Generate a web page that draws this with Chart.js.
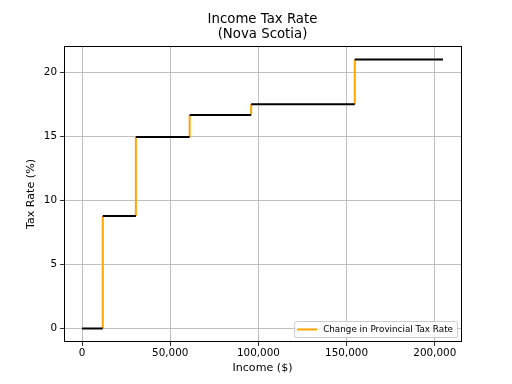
<!DOCTYPE html>
<html>
<head>
<meta charset="utf-8">
<script src="https://cdn.jsdelivr.net/npm/chart.js@4/dist/chart.umd.min.js"></script>
<style>
html,body{margin:0;padding:0;background:#fff;}
#wrap{width:512px;height:384px;position:relative;}
</style>
</head>
<body>
<div id="wrap"><canvas id="c" width="512" height="384"></canvas></div>
<script>
// Bracket thresholds (income $) and provincial tax rates (%)
const bracketEdges = [0, 11744, 30507, 61015, 95883, 154650, 204650];
const taxRates = [0, 8.79, 14.95, 16.67, 17.5, 21];
const xTickValues = [0, 50000, 100000, 150000, 200000];
const yTickValues = [0, 5, 10, 15, 20];
const titleLines = ['Income Tax Rate', '(Nova Scotia)'];
const legendLabel = 'Change in Provincial Tax Rate';

// horizontal (black) segments
const flatPts = [];
for (let i = 0; i < taxRates.length; i++) {
  flatPts.push({x: bracketEdges[i], y: taxRates[i]});
  flatPts.push({x: bracketEdges[i + 1], y: taxRates[i]});
  flatPts.push({x: bracketEdges[i + 1], y: null});
}
// vertical (orange) segments
const stepPts = [];
for (let i = 0; i < taxRates.length - 1; i++) {
  stepPts.push({x: bracketEdges[i + 1], y: taxRates[i]});
  stepPts.push({x: bracketEdges[i + 1], y: taxRates[i + 1]});
  stepPts.push({x: bracketEdges[i + 1], y: null});
}

const xLo = Math.min(...bracketEdges), xHi = Math.max(...bracketEdges);
const yLo = Math.min(...taxRates), yHi = Math.max(...taxRates);
const xm = (xHi - xLo) * 0.05, ym = (yHi - yLo) * 0.05;

const FONT = "'DejaVu Sans', sans-serif";

const framePlugin = {
  id: 'frame',
  afterDraw(chart) {
    const ctx = chart.ctx, a = chart.chartArea;
    ctx.save();
    // axes frame
    ctx.strokeStyle = '#000';
    ctx.lineWidth = 1;
    const L = Math.round(a.left), T = Math.round(a.top), R = Math.round(a.right), B = Math.round(a.bottom);
    ctx.strokeRect(L + 0.5, T + 0.5, R - L, B - T - 1);
    // title, centred over the plot area
    ctx.fillStyle = '#000';
    ctx.textAlign = 'center';
    ctx.textBaseline = 'middle';
    ctx.font = "13.3px " + FONT;
    const cx = (a.left + a.right) / 2;
    ctx.fillText(titleLines[0], cx, 20);
    ctx.fillText(titleLines[1], cx, 35);
    // legend inside lower right
    ctx.font = "8.8px " + FONT;
    const tw = ctx.measureText(legendLabel).width;
    const h = 16;
    const w = 3 + 20 + 6 + tw + 4;
    const rx = R - 4 - w, ry = B - 5 - h;
    ctx.beginPath();
    if (ctx.roundRect) ctx.roundRect(rx + 0.5, ry + 0.5, w, h, 2); else ctx.rect(rx + 0.5, ry + 0.5, w, h);
    ctx.fillStyle = 'rgba(255,255,255,0.8)';
    ctx.fill();
    ctx.strokeStyle = '#cccccc';
    ctx.lineWidth = 1;
    ctx.stroke();
    ctx.beginPath();
    ctx.moveTo(rx + 3, ry + h / 2 + 0.5);
    ctx.lineTo(rx + 23, ry + h / 2 + 0.5);
    ctx.strokeStyle = '#FFA500';
    ctx.lineWidth = 2;
    ctx.stroke();
    ctx.fillStyle = '#000';
    ctx.textBaseline = 'middle';
    ctx.textAlign = 'left';
    ctx.fillText(legendLabel, rx + 29, ry + h / 2 + 0.5);
    ctx.restore();
  }
};

new Chart(document.getElementById('c'), {
  type: 'scatter',
  data: {
    datasets: [
      {label: 'Tax Rate', data: flatPts, showLine: true, spanGaps: false, borderColor: '#000', borderWidth: 2, pointRadius: 0, pointHoverRadius: 0},
      {label: legendLabel, data: stepPts, showLine: true, spanGaps: false, borderColor: '#FFA500', borderWidth: 2, pointRadius: 0, pointHoverRadius: 0}
    ]
  },
  options: {
    responsive: false,
    animation: false,
    events: [],
    layout: {padding: {left: 0, right: 51, top: 46, bottom: 0}},
    plugins: {
      legend: {display: false},
      tooltip: {enabled: false},
      title: {display: false}
    },
    scales: {
      x: {
        type: 'linear',
        min: xLo - xm,
        max: xHi + xm,
        afterBuildTicks(s) { s.ticks = xTickValues.map(v => ({value: v})); },
        afterFit(s) { s.height = 42; },
        ticks: {
          color: '#000',
          font: {family: FONT, size: 10.4},
          padding: 1,
          maxRotation: 0,
          callback: v => Number(v).toLocaleString('en-US')
        },
        grid: {color: '#b0b0b0', lineWidth: 0.8, tickColor: '#000', tickLength: 4, drawTicks: true},
        border: {display: false},
        title: {display: true, text: 'Income ($)', color: '#000', font: {family: FONT, size: 11.1}, padding: {top: 0, bottom: 9}}
      },
      y: {
        type: 'linear',
        min: yLo - ym,
        max: yHi + ym,
        afterBuildTicks(s) { s.ticks = yTickValues.map(v => ({value: v})); },
        afterFit(s) { s.width = 64; },
        ticks: {
          color: '#000',
          font: {family: FONT, size: 10.4},
          padding: 3
        },
        grid: {color: '#b0b0b0', lineWidth: 0.8, tickColor: '#000', tickLength: 4, drawTicks: true},
        border: {display: false},
        title: {display: true, text: 'Tax Rate (%)', color: '#000', font: {family: FONT, size: 11.1}, padding: {top: 24, bottom: 0}}
      }
    }
  },
  plugins: [framePlugin]
});
</script>
</body>
</html>
